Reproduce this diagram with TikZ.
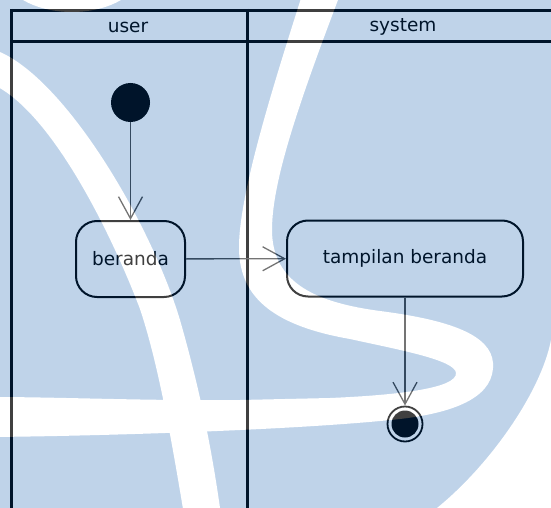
\documentclass[tikz,border=0pt]{standalone}
\usepackage{fontspec}
\setmainfont{DejaVu Sans}
\usetikzlibrary{arrows.meta}

\definecolor{inkline}{RGB}{0,0,0}
\definecolor{flowline}{RGB}{70,70,70}
\definecolor{logoblue}{RGB}{0,83,171}

\tikzset{
  lane/.style={line width=3pt, inkline},
  activity/.style={draw=inkline, line width=2pt, rounded corners=21pt,
    minimum height=76pt, inner sep=0pt, outer sep=1pt,
    font=\fontsize{18.5}{20}\selectfont},
  lanetitle/.style={font=\fontsize{18.5}{20}\selectfont, inner sep=0pt},
  flow/.style={draw=flowline, line width=1.3pt,
    -{Straight Barb[length=22pt, width=24pt, line width=1.3pt]}},
  startdot/.style={circle, fill=inkline, minimum size=39pt, inner sep=0pt},
  enddot/.style={circle, draw=inkline, line width=1.8pt, fill=white,
    minimum size=35pt, inner sep=0pt, outer sep=1pt},
  logopart/.style={fill=white}
}

\begin{document}
\begin{tikzpicture}[x=1pt, y=-1pt]
\useasboundingbox (0,0) rectangle (551,508);
\clip (0,0) rectangle (551,508);
\fill[white] (0,0) rectangle (551,508);

% swimlanes
\draw[lane] (11.5,10.5) -- (570,10.5);
\draw[lane] (11.5,42) -- (570,42);
\draw[lane] (11.5,9) -- (11.5,520);
\draw[lane] (247,9) -- (247,520);
\node[lanetitle] (userlbl) at (128,27) {user};
\node[lanetitle] (syslbl) at (403,27) {system};

% activities
\node[startdot] (start) at (130.5,102.5) {};
\node[activity, minimum width=109pt] (beranda) at (130.5,259) {beranda};
\node[activity, minimum width=236pt] (tampil) at (405,258.5) {tampilan beranda};
\node[enddot] (stop) at (405,424) {};
\fill[inkline] (stop.center) circle (13.5pt);

\draw[flow] (start) -- (beranda);
\draw[flow] (beranda) -- (tampil);
\draw[flow] (tampil) -- (stop);

% logo laid over the drawing
\begin{scope}[transparency group, opacity=0.25]
  \fill[logoblue] (0,0) rectangle (551,508);
  % round dot at the top
  \fill[logopart] (72,-30) ellipse (70pt and 42pt);
  % sweeping stroke on the left
  \fill[logopart] (-8,49) .. controls (60,70) and (150,220) .. (180,320)
    .. controls (200,390) and (212,450) .. (221,515)
    -- (184,515) .. controls (170,430) and (157,360) .. (140,309)
    .. controls (110,230) and (50,110) .. (-8,84) -- cycle;
  % S-shaped stroke
  \fill[logopart] (303,-8) .. controls (275,80) and (240,190) .. (239,245)
    .. controls (238,295) and (270,325) .. (350,339)
    .. controls (400,350) and (455,360) .. (456,373)
    .. controls (457,388) and (400,395) .. (330,398)
    -- (240,400) .. controls (150,401) and (60,397) .. (-8,397)
    -- (-8,437) .. controls (100,436) and (300,430) .. (400,419)
    .. controls (460,412) and (495,395) .. (493,363)
    .. controls (491,335) and (450,320) .. (380,311)
    .. controls (320,303) and (272,285) .. (272,230)
    .. controls (272,180) and (300,100) .. (341,-8) -- cycle;
  % rim of the large circle, bottom right
  \fill[logopart] (551,340) .. controls (541,392) and (490,465) .. (437,508)
    -- (551,508) -- cycle;
\end{scope}
\end{tikzpicture}
\end{document}
